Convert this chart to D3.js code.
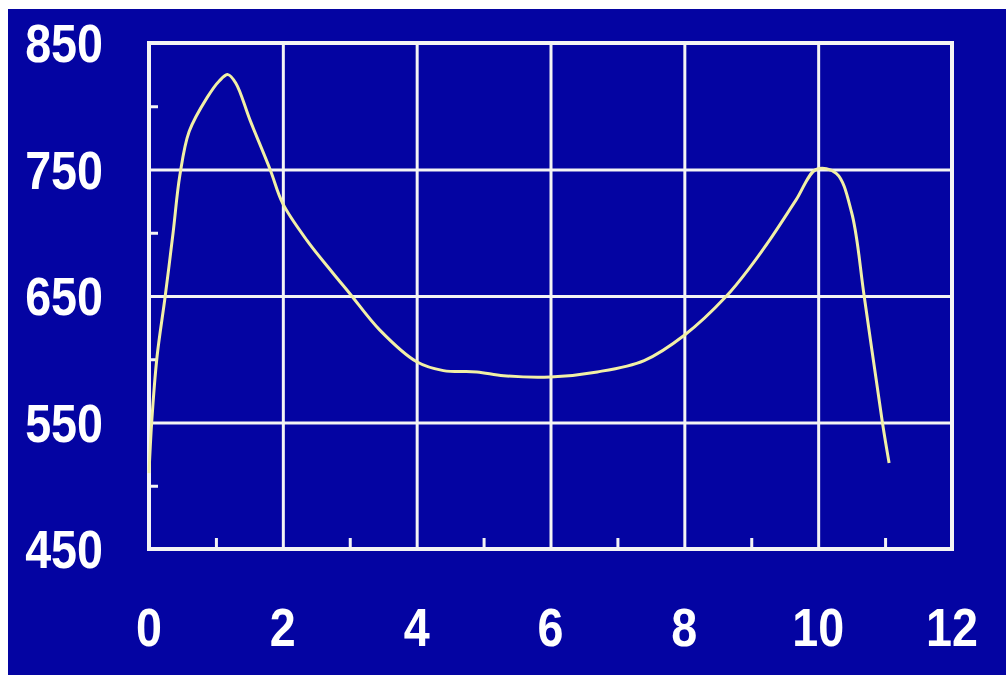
<!DOCTYPE html>
<html>
<head>
<meta charset="utf-8">
<script src="https://cdn.jsdelivr.net/npm/d3@7"></script>
<style>
  html, body { margin: 0; padding: 0; background: #ffffff; }
  svg { display: block; }
</style>
</head>
<body>
<div id="chart"></div>
<script>
// values
var xValues = [0, 0.04, 0.12, 0.24, 0.36, 0.46, 0.6, 0.87, 1.05, 1.18, 1.3, 1.51, 1.81, 2.0, 2.36, 2.75, 3.0, 3.45, 4.0, 4.4, 4.9, 5.3, 6.0, 6.7, 7.4, 8.0, 8.63, 9.0, 9.31, 9.67, 9.97, 10.27, 10.5, 10.69, 10.96, 11.06];
var yValues = [510, 550, 602, 649, 700, 745, 780, 807, 820, 825, 818, 789, 750, 723, 694, 668, 652, 623, 598, 591, 590, 587, 586, 590, 599, 619, 650, 674, 697, 726, 750, 747, 716, 649, 550, 518];
var xTicks = [0, 2, 4, 6, 8, 10, 12];
var yTicks = [450, 550, 650, 750, 850];
var xMinor = [1, 3, 5, 7, 9, 11];
var yMinor = [500, 600, 700, 800];

var svgWidth = 1006;
var svgHeight = 675;

var margin = {
  top: 43,
  right: 54,
  bottom: 126,
  left: 149
};

var width = svgWidth - margin.left - margin.right;
var height = svgHeight - margin.top - margin.bottom;

var svg = d3.select("#chart")
  .append("svg")
  .attr("width", svgWidth)
  .attr("height", svgHeight);

// blue backdrop, thin white strip left and top
svg.append("rect")
  .attr("x", 8)
  .attr("y", 9)
  .attr("width", svgWidth - 8)
  .attr("height", svgHeight - 9)
  .attr("fill", "#0404a2");

var chartGroup = svg.append("g")
  .attr("transform", `translate(${margin.left}, ${margin.top})`);

var xScale = d3.scaleLinear().domain([0, 12]).range([0, width]);
var yScale = d3.scaleLinear().domain([450, 850]).range([height, 0]);

// grid lines
var xGrid = chartGroup.append("g")
  .attr("transform", `translate(0, ${height})`)
  .call(d3.axisBottom(xScale).tickValues(xTicks).tickSize(-height).tickFormat(""));
var yGrid = chartGroup.append("g")
  .call(d3.axisLeft(yScale).tickValues(yTicks).tickSize(-width).tickFormat(""));

[xGrid, yGrid].forEach(function(g) {
  g.select(".domain").remove();
  g.selectAll("line").attr("stroke", "#f4f4f4").attr("stroke-width", 3);
});

// minor ticks pointing inward
var xMin = chartGroup.append("g")
  .attr("transform", `translate(0, ${height})`)
  .call(d3.axisTop(xScale).tickValues(xMinor).tickSize(11).tickFormat(""));
var yMin = chartGroup.append("g")
  .call(d3.axisRight(yScale).tickValues(yMinor).tickSize(9).tickFormat(""));

[xMin, yMin].forEach(function(g) {
  g.select(".domain").remove();
  g.selectAll("line").attr("stroke", "#f4f4f4").attr("stroke-width", 3);
});

// frame
chartGroup.append("rect")
  .attr("x", 0)
  .attr("y", 0)
  .attr("width", width)
  .attr("height", height)
  .attr("fill", "none")
  .attr("stroke", "#f4f4f4")
  .attr("stroke-width", 4);

// the curve
var points = xValues.map(function(x, i) { return [x, yValues[i]]; });

var line = d3.line()
  .x(d => xScale(d[0]))
  .y(d => yScale(d[1]))
  .curve(d3.curveCatmullRom.alpha(0.5));

chartGroup.append("path")
  .datum(points)
  .attr("d", line)
  .attr("fill", "none")
  .attr("stroke", "#f2f0a6")
  .attr("stroke-width", 3)
  .attr("stroke-linejoin", "round");

// tick labels, bold and a little condensed
var fontSize = 53;

chartGroup.selectAll(".ylab")
  .data(yTicks)
  .enter()
  .append("text")
  .attr("class", "ylab")
  .attr("transform", d => `translate(${103 - margin.left}, ${yScale(d) + 19}) scale(0.88, 1)`)
  .attr("text-anchor", "end")
  .attr("font-family", "'Liberation Sans', Arial, sans-serif")
  .attr("font-weight", "bold")
  .attr("font-size", fontSize)
  .attr("fill", "#ffffff")
  .text(d => d);

chartGroup.selectAll(".xlab")
  .data(xTicks)
  .enter()
  .append("text")
  .attr("class", "xlab")
  .attr("transform", d => `translate(${xScale(d)}, ${646 - margin.top}) scale(0.88, 1)`)
  .attr("text-anchor", "middle")
  .attr("font-family", "'Liberation Sans', Arial, sans-serif")
  .attr("font-weight", "bold")
  .attr("font-size", fontSize)
  .attr("fill", "#ffffff")
  .text(d => d);
</script>
</body>
</html>
